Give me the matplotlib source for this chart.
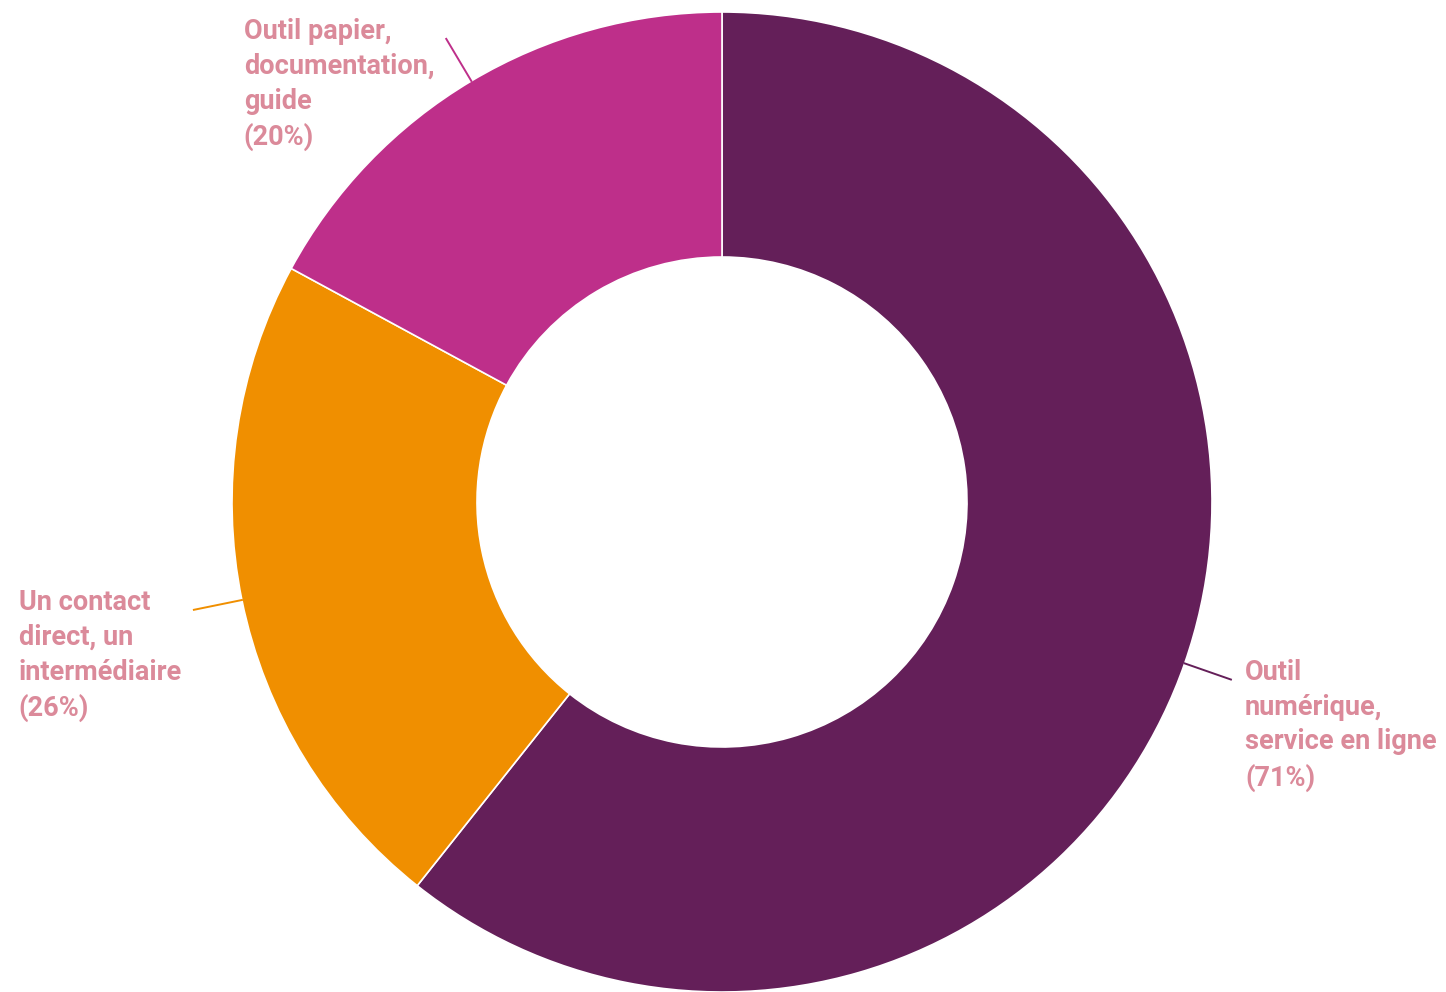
import matplotlib
matplotlib.use('Agg')
import matplotlib.pyplot as plt
import numpy as np

# Share of respondents per channel (percentages do not sum to 100: multiple answers)
labels = ['Outil\nnumérique,\nservice en ligne', 'Un contact\ndirect, un\nintermédiaire',
          'Outil papier,\ndocumentation,\nguide']
values = [71, 26, 20]
colors = ['#641f59', '#f08f00', '#be2f8a']
label_color = '#db8a9a'

plt.rcParams['font.family'] = ['Roboto', 'DejaVu Sans']

W, H = 1446, 992
fig = plt.figure(figsize=(W / 100, H / 100), dpi=100)
cx, cy, R = 722, 502, 490
ax = fig.add_axes([(cx - R) / W, (H - cy - R) / H, 2 * R / W, 2 * R / H])

wedges, _ = ax.pie(values, colors=colors, startangle=90, counterclock=False,
                   radius=1.0, wedgeprops=dict(width=0.5, edgecolor='white', linewidth=1.2))
ax.set_xlim(-1, 1)
ax.set_ylim(-1, 1)
ax.set_aspect('equal')
ax.axis('off')

# leader lines and labels
for w, lab, val, col in zip(wedges, labels, values, colors):
    mid = np.deg2rad((w.theta1 + w.theta2) / 2)
    x0, y0 = np.cos(mid), np.sin(mid)
    x1, y1 = 1.1 * x0, 1.1 * y0
    ax.plot([x0, x1], [y0, y1], color=col, lw=1.4, clip_on=False)
    right = x0 > 0
    ax.annotate(f'{lab}\n({val}%)', xy=(x1, y1), xytext=(14 if right else -12, 21),
                textcoords='offset pixels', ha='left' if right else 'right', va='top',
                multialignment='left', color=label_color, fontsize=19.5,
                fontweight='semibold', linespacing=1.38, annotation_clip=False)

fig.savefig('out.png', dpi=100)
